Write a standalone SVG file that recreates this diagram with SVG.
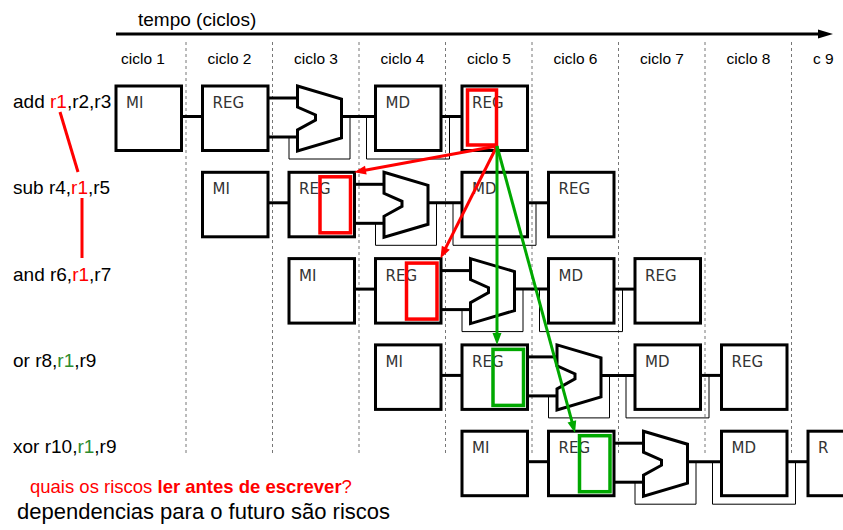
<svg xmlns="http://www.w3.org/2000/svg" xmlns:xlink="http://www.w3.org/1999/xlink" width="843" height="530" viewBox="0 0 843 530">
<style>
.box{fill:#fff;stroke:#000;stroke-width:3}
.alu{fill:#fff;stroke:#000;stroke-width:3;stroke-linejoin:miter}
.lbl{font-family:"DejaVu Sans",sans-serif;font-size:15px;fill:#333}
.wire{stroke:#000;stroke-width:3;fill:none}
.thin{stroke:#000;stroke-width:1;fill:none}
.dash{stroke:#777;stroke-width:1;stroke-dasharray:3 3}
.txt{font-family:"Liberation Sans",Arial,sans-serif;fill:#000}
.hr{fill:none;stroke:#f00;stroke-width:3.5}
.hg{fill:none;stroke:#00a800;stroke-width:3.5}
.ar{stroke:#f00;stroke-width:3;fill:none}
.ag{stroke:#00a800;stroke-width:3;fill:none}
</style>
<defs>
<path id="alu" d="M8.5,0 L52.5,13 L52.5,52 L8.5,65 L8.5,44 L26.5,34 L26.5,29 L8.5,21 Z"/>
<marker id="mr" markerUnits="userSpaceOnUse" viewBox="-6 -5 14 10" refX="0" refY="0" markerWidth="14" markerHeight="10" orient="auto"><path d="M7,0 L-5,-4.5 L-5,4.5 Z" fill="#f00"/></marker>
<marker id="mg" markerUnits="userSpaceOnUse" viewBox="-6 -5 14 10" refX="0" refY="0" markerWidth="14" markerHeight="10" orient="auto"><path d="M7,0 L-5,-4.5 L-5,4.5 Z" fill="#00a800"/></marker>
</defs>

<g id="timeline">
<text class="txt" x="138" y="26" font-size="19">tempo (ciclos)</text>
<line x1="116" y1="34" x2="821" y2="34" stroke="#000" stroke-width="3"/>
<polygon points="818,29.5 833,34 818,38.5" fill="#000"/>
<g class="txt" font-size="15.5" text-anchor="middle">
<text x="143" y="64">ciclo 1</text>
<text x="229.5" y="64">ciclo 2</text>
<text x="316" y="64">ciclo 3</text>
<text x="402.5" y="64">ciclo 4</text>
<text x="489" y="64">ciclo 5</text>
<text x="575.5" y="64">ciclo 6</text>
<text x="662" y="64">ciclo 7</text>
<text x="748.5" y="64">ciclo 8</text>
</g>
<text class="txt" x="813" y="64" font-size="15.5">c 9</text>
<g class="dash">
<line x1="186" y1="42" x2="186" y2="455"/>
<line x1="272.5" y1="42" x2="272.5" y2="455"/>
<line x1="359" y1="42" x2="359" y2="455"/>
<line x1="445.5" y1="42" x2="445.5" y2="455"/>
<line x1="532" y1="42" x2="532" y2="455"/>
<line x1="618.5" y1="42" x2="618.5" y2="455"/>
<line x1="705" y1="42" x2="705" y2="455"/>
<line x1="791.5" y1="42" x2="791.5" y2="455"/>
</g>
</g>

<g id="instructions" class="txt" font-size="19">
<text x="13" y="108">add <tspan fill="#f00">r1</tspan>,r2,r3</text>
<text x="13" y="194.3">sub r4,<tspan fill="#f00">r1</tspan>,r5</text>
<text x="13" y="280.6">and r6,<tspan fill="#f00">r1</tspan>,r7</text>
<text x="13" y="367">or r8,<tspan fill="#2e8b2e">r1</tspan>,r9</text>
<text x="13" y="453.2">xor r10,<tspan fill="#2e8b2e">r1</tspan>,r9</text>
</g>

<g id="connectors">
<!-- row 1 -->
<line class="wire" x1="181.5" y1="116.5" x2="202.5" y2="116.5"/>
<line class="wire" x1="268" y1="98" x2="297.5" y2="98"/>
<line class="wire" x1="268" y1="137" x2="297.5" y2="137"/>
<polyline class="thin" points="289,137 289,159 350,159 350,116.5"/>
<line class="wire" x1="341.5" y1="116.5" x2="375.5" y2="116.5"/>
<polyline class="thin" points="366.5,116.5 366.5,159 449.5,159 449.5,116.5"/>
<line class="wire" x1="441" y1="116.5" x2="462" y2="116.5"/>
<!-- row 2 -->
<line class="wire" x1="268" y1="202.8" x2="289" y2="202.8"/>
<line class="wire" x1="354.5" y1="184.3" x2="384" y2="184.3"/>
<line class="wire" x1="354.5" y1="223.3" x2="384" y2="223.3"/>
<polyline class="thin" points="375.5,223.3 375.5,245.3 436.5,245.3 436.5,202.8"/>
<line class="wire" x1="428" y1="202.8" x2="462" y2="202.8"/>
<polyline class="thin" points="453,202.8 453,245.3 536,245.3 536,202.8"/>
<line class="wire" x1="527.5" y1="202.8" x2="548.5" y2="202.8"/>
<!-- row 3 -->
<line class="wire" x1="354.5" y1="289.1" x2="375.5" y2="289.1"/>
<line class="wire" x1="441" y1="270.6" x2="470.5" y2="270.6"/>
<line class="wire" x1="441" y1="309.6" x2="470.5" y2="309.6"/>
<polyline class="thin" points="462,309.6 462,331.6 523,331.6 523,289.1"/>
<line class="wire" x1="514.5" y1="289.1" x2="548.5" y2="289.1"/>
<polyline class="thin" points="539.5,289.1 539.5,331.6 622.5,331.6 622.5,289.1"/>
<line class="wire" x1="614" y1="289.1" x2="635" y2="289.1"/>
<!-- row 4 -->
<line class="wire" x1="441" y1="375.4" x2="462" y2="375.4"/>
<line class="wire" x1="527.5" y1="356.9" x2="557" y2="356.9"/>
<line class="wire" x1="527.5" y1="395.9" x2="557" y2="395.9"/>
<polyline class="thin" points="548.5,395.9 548.5,417.9 609.5,417.9 609.5,375.4"/>
<line class="wire" x1="601" y1="375.4" x2="635" y2="375.4"/>
<polyline class="thin" points="626,375.4 626,417.9 709,417.9 709,375.4"/>
<line class="wire" x1="700.5" y1="375.4" x2="721.5" y2="375.4"/>
<!-- row 5 -->
<line class="wire" x1="527.5" y1="461.7" x2="548.5" y2="461.7"/>
<line class="wire" x1="614" y1="443.2" x2="643.5" y2="443.2"/>
<line class="wire" x1="614" y1="482.2" x2="643.5" y2="482.2"/>
<polyline class="thin" points="635,482.2 635,504.2 696,504.2 696,461.7"/>
<line class="wire" x1="687.5" y1="461.7" x2="721.5" y2="461.7"/>
<polyline class="thin" points="712.5,461.7 712.5,504.2 795.5,504.2 795.5,461.7"/>
<line class="wire" x1="787" y1="461.7" x2="808" y2="461.7"/>
</g>

<g id="row1">
<rect class="box" x="116" y="86" width="65.5" height="64.5"/><text class="lbl" x="126" y="108">MI</text>
<rect class="box" x="202.5" y="86" width="65.5" height="64.5"/><text class="lbl" x="212.5" y="108">REG</text>
<use href="#alu" xlink:href="#alu" class="alu" x="289" y="86"/>
<rect class="box" x="375.5" y="86" width="65.5" height="64.5"/><text class="lbl" x="385.5" y="108">MD</text>
<rect class="box" x="462" y="86" width="65.5" height="64.5"/><text class="lbl" x="472" y="108">REG</text>
</g>
<g id="row2">
<rect class="box" x="202.5" y="172.3" width="65.5" height="64.5"/><text class="lbl" x="212.5" y="194.3">MI</text>
<rect class="box" x="289" y="172.3" width="65.5" height="64.5"/><text class="lbl" x="299" y="194.3">REG</text>
<use href="#alu" xlink:href="#alu" class="alu" x="375.5" y="172.3"/>
<rect class="box" x="462" y="172.3" width="65.5" height="64.5"/><text class="lbl" x="472" y="194.3">MD</text>
<rect class="box" x="548.5" y="172.3" width="65.5" height="64.5"/><text class="lbl" x="558.5" y="194.3">REG</text>
</g>
<g id="row3">
<rect class="box" x="289" y="258.6" width="65.5" height="64.5"/><text class="lbl" x="299" y="280.6">MI</text>
<rect class="box" x="375.5" y="258.6" width="65.5" height="64.5"/><text class="lbl" x="385.5" y="280.6">REG</text>
<use href="#alu" xlink:href="#alu" class="alu" x="462" y="258.6"/>
<rect class="box" x="548.5" y="258.6" width="65.5" height="64.5"/><text class="lbl" x="558.5" y="280.6">MD</text>
<rect class="box" x="635" y="258.6" width="65.5" height="64.5"/><text class="lbl" x="645" y="280.6">REG</text>
</g>
<g id="row4">
<rect class="box" x="375.5" y="344.9" width="65.5" height="64.5"/><text class="lbl" x="385.5" y="366.9">MI</text>
<rect class="box" x="462" y="344.9" width="65.5" height="64.5"/><text class="lbl" x="472" y="366.9">REG</text>
<use href="#alu" xlink:href="#alu" class="alu" x="548.5" y="344.9"/>
<rect class="box" x="635" y="344.9" width="65.5" height="64.5"/><text class="lbl" x="645" y="366.9">MD</text>
<rect class="box" x="721.5" y="344.9" width="65.5" height="64.5"/><text class="lbl" x="731.5" y="366.9">REG</text>
</g>
<g id="row5">
<rect class="box" x="462" y="431.2" width="65.5" height="64.5"/><text class="lbl" x="472" y="453.2">MI</text>
<rect class="box" x="548.5" y="431.2" width="65.5" height="64.5"/><text class="lbl" x="558.5" y="453.2">REG</text>
<use href="#alu" xlink:href="#alu" class="alu" x="635" y="431.2"/>
<rect class="box" x="721.5" y="431.2" width="65.5" height="64.5"/><text class="lbl" x="731.5" y="453.2">MD</text>
<rect class="box" x="808" y="431.2" width="65.5" height="64.5"/><text class="lbl" x="818" y="453.2">R</text>
</g>

<g id="hazards">
<rect class="hr" x="467.5" y="90" width="29" height="55"/>
<rect class="hr" x="320" y="176.8" width="30.5" height="56"/>
<rect class="hr" x="406.5" y="263.1" width="30.5" height="56"/>
<rect class="hg" x="493" y="349.4" width="30.5" height="56"/>
<rect class="hg" x="579.5" y="435.7" width="30.5" height="56"/>
<line class="ar" x1="60" y1="112" x2="78" y2="172"/>
<line class="ar" x1="82" y1="198" x2="82" y2="258"/>
</g>

<g id="dependency-arrows">
<line class="ar" x1="497" y1="146" x2="360.9" y2="171" marker-end="url(#mr)"/>
<line class="ar" x1="497" y1="146" x2="443.6" y2="252.2" marker-end="url(#mr)"/>
<line class="ag" x1="497" y1="146" x2="497" y2="338" marker-end="url(#mg)"/>
<line class="ag" x1="497" y1="146" x2="573.2" y2="426.2" marker-end="url(#mg)"/>
</g>

<g id="notes" class="txt">
<text x="30" y="493" font-size="18.5" fill="#f00">quais os riscos <tspan font-weight="bold">ler antes de escrever</tspan>?</text>
<text x="17" y="519" font-size="22">dependencias para o futuro são riscos</text>
</g>
</svg>
